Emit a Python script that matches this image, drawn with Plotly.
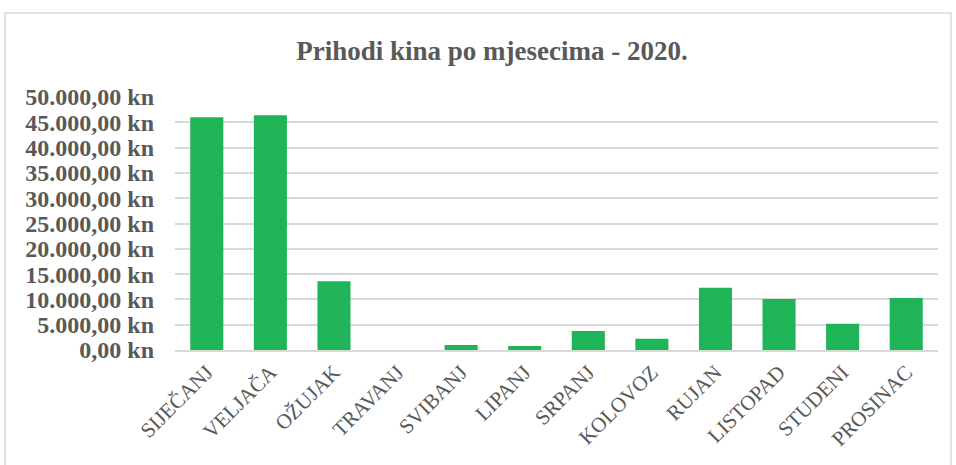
import plotly.graph_objects as go

months = ["SIJEČANJ", "VELJAČA", "OŽUJAK", "TRAVANJ", "SVIBANJ", "LIPANJ",
          "SRPANJ", "KOLOVOZ", "RUJAN", "LISTOPAD", "STUDENI", "PROSINAC"]
revenue = [46000, 46400, 13600, 0, 1000, 800, 3750, 2200, 12300, 10100, 5200, 10300]

tick_vals = [0, 5000, 10000, 15000, 20000, 25000, 30000, 35000, 40000, 45000, 50000]
tick_text = ["0,00 kn", "5.000,00 kn", "10.000,00 kn", "15.000,00 kn", "20.000,00 kn",
             "25.000,00 kn", "30.000,00 kn", "35.000,00 kn", "40.000,00 kn",
             "45.000,00 kn", "50.000,00 kn"]

title_text = "Prihodi kina po mjesecima - 2020."

W, H = 956, 465
ml, mr, mt, mb = 175, 18, 97, 115
pw = W - ml - mr
ph = H - mt - mb

fig = go.Figure()
fig.add_trace(go.Bar(
    x=months, y=revenue,
    marker=dict(color="#1fb457", line=dict(width=0)),
))

fig.update_layout(
    width=W, height=H,
    margin=dict(l=ml, r=mr, t=mt, b=mb, autoexpand=False),
    paper_bgcolor="white", plot_bgcolor="white",
    bargap=0.48,
    showlegend=False,
    title=dict(text="<b>" + title_text + "</b>",
               x=(492 - ml) / pw, xref="paper", xanchor="center",
               y=1 - 51 / H, yref="container", yanchor="middle",
               font=dict(family="Liberation Serif", size=27, color="#595959")),
    font=dict(family="Liberation Serif", color="#595959"),
    shapes=[dict(type="rect", xref="paper", yref="paper",
                 x0=(5 - ml) / pw, x1=(951 - ml) / pw,
                 y0=-(470 - (H - mb)) / ph, y1=((H - mb) - 13) / ph,
                 line=dict(color="#d9d9d9", width=1.5), fillcolor="rgba(0,0,0,0)",
                 layer="below")],
)

fig.update_yaxes(
    range=[0, 50000], tickvals=tick_vals, ticktext=tick_text,
    showgrid=True, gridcolor="#d9d9d9", gridwidth=1.5,
    zeroline=False, showline=False, automargin=False,
    tickfont=dict(family="Liberation Serif", size=24, color="#595959", weight="bold"),
    ticks="", ticklabelstandoff=20,
)
fig.update_xaxes(
    tickangle=-45, showline=True, linecolor="#d9d9d9", linewidth=1.5,
    tickfont=dict(family="Liberation Serif", size=21, color="#595959"),
    ticks="", showgrid=False, automargin=False,
)

fig.write_html("out.html", config={"displayModeBar": False},
               post_script="document.body.style.margin='0px';")
